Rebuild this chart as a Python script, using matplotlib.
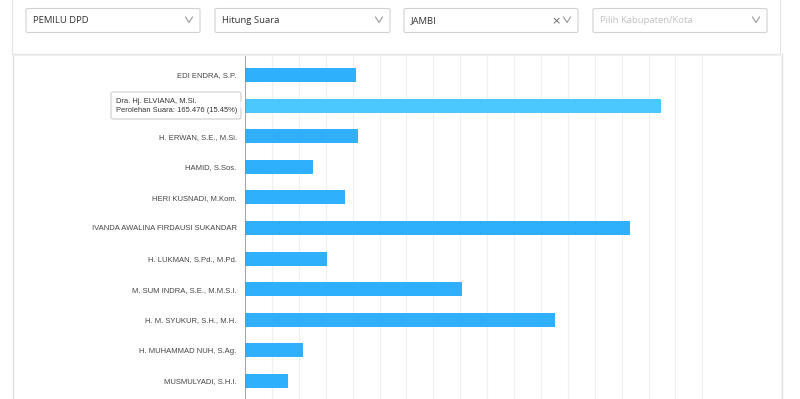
import matplotlib
matplotlib.use("Agg")
import matplotlib.pyplot as plt
from matplotlib.patches import FancyBboxPatch, Rectangle, Polygon

candidates = [
    "EDI ENDRA, S.P.",
    "Dra. Hj. ELVIANA, M.Si.",
    "H. ERWAN, S.E., M.Si.",
    "HAMID, S.Sos.",
    "HERI KUSNADI, M.Kom.",
    "IVANDA AWALINA FIRDAUSI SUKANDAR",
    "H. LUKMAN, S.Pd., M.Pd.",
    "M. SUM INDRA, S.E., M.M.S.I.",
    "H. M. SYUKUR, S.H., M.H.",
    "H. MUHAMMAD NUH, S.Ag.",
    "MUSMULYADI, S.H.I.",
]
percent = [4.12, 15.45, 4.21, 2.54, 3.73, 14.31, 3.05, 8.08, 11.54, 2.16, 1.59]
hover_index = 1
hover_votes = "165.476"
grid_ticks = list(range(0, 18))
filters = ["PEMILU DPD", "Hitung Suara", "JAMBI", "Pilih Kabupaten/Kota"]

W, H = 800, 399
fig = plt.figure(figsize=(W / 100, H / 100), dpi=100)
fig.patch.set_facecolor("white")

def fx(px):
    return px / W

def fy(py):
    return 1 - py / H

# ---- chart card borders
fig.add_artist(plt.Line2D([fx(12.5), fx(12.5)], [fy(54), fy(399)], color="#e0e0e0", lw=1))
fig.add_artist(plt.Line2D([fx(782), fx(782)], [fy(54), fy(399)], color="#e0e0e0", lw=1))

# ---- plot axes
ax_l, ax_r, ax_t, ax_b = 245, 782, 55, 399
ax = fig.add_axes([fx(ax_l), fy(ax_b), fx(ax_r - ax_l), (ax_b - ax_t) / H])
ax.set_facecolor("white")
px_per_unit = 26.9
ax.set_xlim(0, (ax_r - ax_l) / px_per_unit)
row = 30.6
first_center = 75
ax.set_ylim((ax_b - first_center) / row, -(first_center - ax_t) / row)

for t in grid_ticks[1:]:
    ax.axvline(t, color="#f0f0f0", lw=0.9, zorder=0)

ys = list(range(len(candidates)))
colors = ["#2fb0fd"] * len(candidates)
colors[hover_index] = "#4bc8fe"
ax.barh(ys, percent, height=0.46, color=colors, zorder=2)

for s in ax.spines.values():
    s.set_visible(False)
ax.axvline(0, color="#8a8a8a", lw=1.1, zorder=3)
ax.set_xticks([])
ax.set_yticks(ys)
ax.set_yticklabels([c if i != hover_index else "" for i, c in enumerate(candidates)],
                   fontsize=5.5, color="#444444", family="Liberation Sans")
ax.tick_params(axis="y", length=0, pad=6)

# ---- tooltip
tx0, tx1, ty0, ty1 = 111, 241, 92, 119
tip = FancyBboxPatch((fx(tx0), fy(ty1)), fx(tx1 - tx0), (ty1 - ty0) / H,
                     boxstyle="round,pad=0,rounding_size=0.004",
                     transform=fig.transFigure, facecolor="white",
                     edgecolor="#cccccc", lw=0.8, zorder=10)
fig.add_artist(tip)
fig.add_artist(Polygon([[fx(240.5), fy(101)], [fx(245), fy(105)], [fx(240.5), fy(109)]],
                       closed=True, transform=fig.transFigure, facecolor="white",
                       edgecolor="none", zorder=11))
fig.text(fx(116), fy(101.5), candidates[hover_index], fontsize=5.45, color="#333333",
         family="Liberation Sans", va="center", ha="left", zorder=12)
fig.text(fx(116), fy(111), f"Perolehan Suara: {hover_votes} ({percent[hover_index]:.2f}%)",
         fontsize=5.45, color="#333333", family="Liberation Sans", va="center", ha="left", zorder=12)

# ---- top filter panel
panel = Rectangle((fx(12), fy(54)), fx(768), 54 / H + 0.01, transform=fig.transFigure,
                  facecolor="white", edgecolor="#e6e6e6", lw=1, zorder=5)
fig.add_artist(panel)
fig.add_artist(plt.Line2D([fx(13), fx(780)], [fy(55.2), fy(55.2)], color="#f2f2f2", lw=1.5, zorder=4))

boxes = [(26, 200), (215, 390), (404, 578), (593, 767)]
for i, ((x0, x1), label) in enumerate(zip(boxes, filters)):
    b = FancyBboxPatch((fx(x0), fy(32.5)), fx(x1 - x0), 24 / H,
                       boxstyle="round,pad=0,rounding_size=0.003",
                       transform=fig.transFigure, facecolor="white",
                       edgecolor="#d2d2d2", lw=0.8, zorder=6)
    fig.add_artist(b)
    col = "#c0c0c0" if i == 3 else "#333333"
    fig.text(fx(x0 + 7), fy(20.5), label, fontsize=6.8, color=col, family="Open Sans",
             va="center", ha="left", zorder=7)
    cx = x1 - 11
    fig.add_artist(plt.Line2D([fx(cx - 3.5), fx(cx), fx(cx + 3.5)], [fy(17), fy(22.5), fy(17)],
                              color="#999999", lw=0.8, zorder=7))
    if i == 2:
        fig.text(fx(cx - 11), fy(21), "×", fontsize=8, color="#666666", family="DejaVu Sans",
                 va="center", ha="center", zorder=7)

fig.savefig("out.png", dpi=100, facecolor="white")
